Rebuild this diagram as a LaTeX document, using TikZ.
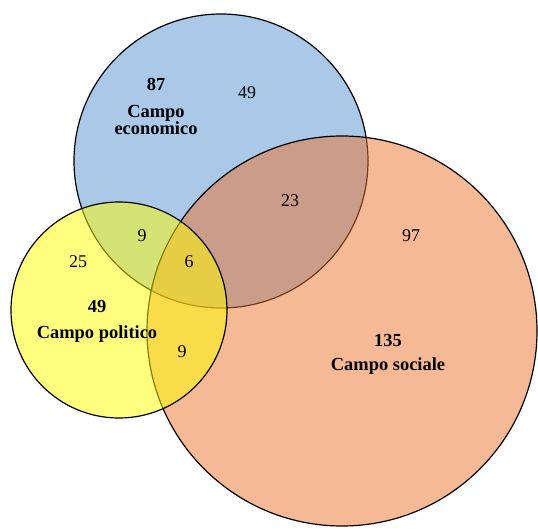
\documentclass[tikz,border=0pt]{standalone}
\usepackage{fontspec}
\setmainfont{Liberation Serif}
\definecolor{econblue}{RGB}{85,145,209}
\definecolor{socorange}{RGB}{235,115,45}
\definecolor{polyellow}{RGB}{255,255,0}
\begin{document}
\begin{tikzpicture}[x=1bp, y=-1bp]
\tikzset{set/.style={shape=circle, draw=black, line width=1.2bp, fill opacity=0.5, inner sep=0pt},
         count/.style={font=\fontsize{18}{20}\selectfont, inner sep=0pt},
         title/.style={font=\fontsize{18.5}{18}\selectfont\bfseries, inner sep=0pt, align=center}}
\useasboundingbox (0,0) rectangle (538,529);
% the three sets
\node[set, fill=econblue, minimum size=294bp] (econ) at (221,161) {};
\node[set, fill=socorange, minimum size=390bp] (soc) at (342,331) {};
\node[set, fill=polyellow, minimum size=216bp] (pol) at (119,310) {};
% totals and names
\node[title] (econtot) at (156,84) {87};
\node[title] (econname) at (156,120) {Campo\\economico};
\node[title] (poltot) at (97,306) {49};
\node[title] (polname) at (97,334) {Campo politico};
\node[title] (soctot) at (388,340) {135};
\node[title] (socname) at (388,366) {Campo sociale};
% region counts
\node[count] (econonly) at (247,93) {49};
\node[count] (econsoc) at (290,201) {23};
\node[count] (soconly) at (411,236) {97};
\node[count] (econpol) at (142,236) {9};
\node[count] (polonly) at (78,262) {25};
\node[count] (allthree) at (189,262) {6};
\node[count] (polsoc) at (182,352) {9};
\end{tikzpicture}
\end{document}
